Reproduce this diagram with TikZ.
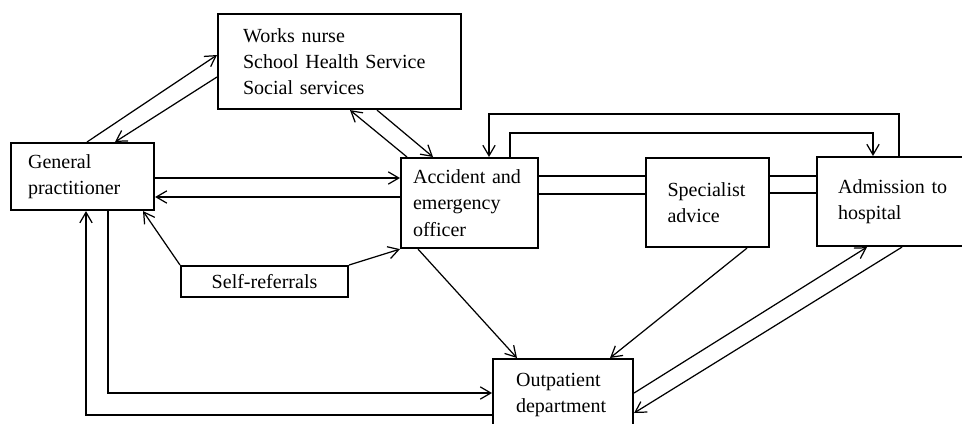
\documentclass[tikz,border=0pt]{standalone}
\usepackage{fontspec}
\setmainfont{Liberation Serif}
\usetikzlibrary{arrows.meta}
\begin{document}
\begin{tikzpicture}
[x=0.02cm,y=-0.02cm,
  lineDecorate/.style={line width=0.7pt},
  arrowDecorate/.style={lineDecorate,-{Straight Barb[length=6pt,width=7pt]}},
  nodeDecorate/.style={shape=rectangle,draw,line width=1.2pt,inner ysep=0pt,
    anchor=north west,font=\fontsize{11.4}{15}\selectfont}]
\useasboundingbox (0,0) rectangle (962,423);
%% boxes
\foreach \nodename/\x/\y/\w/\h/\pad/\tw/\al/\txt in {
  works/217/13/4.86/1.90/0.50/3.86/left/{Works nurse\\School Health Service\\Social services},
  gp/10/142/2.86/1.34/0.34/2.18/left/{General\\practitioner},
  ae/400/157/2.74/1.80/0.24/2.26/left/{Accident and\\emergency\\officer},
  spec/645/157/2.46/1.78/0.43/1.60/left/{Specialist\\advice},
  adm/816/156/3.20/1.78/0.42/2.36/left/{Admission to\\hospital},
  self/180/265/3.34/0.62/0.30/2.74/center/{Self-referrals},
  out/492/358/2.80/1.44/0.46/1.88/left/{Outpatient\\department}}
{
  \node (\nodename) at (\x,\y) [nodeDecorate,align=\al,inner xsep=\pad cm,text width=\tw cm,
    minimum width=\w cm,minimum height=\h cm] {\txt};
}
%% connectors
\draw[arrowDecorate] (gp.north -| 87,0) -- (works.west |- 0,55);
\draw[arrowDecorate] (works.west |- 0,77) -- (gp.north -| 115,0);
\draw[arrowDecorate] (works.south -| 377,0) -- (ae.north -| 433,0);
\draw[arrowDecorate] (ae.north -| 407,0) -- (works.south -| 350,0);
\draw[arrowDecorate] (gp.east |- 0,178) -- (ae.west |- 0,178);
\draw[arrowDecorate] (ae.west |- 0,197) -- (gp.east |- 0,197);
\draw[arrowDecorate] (self.north west) -- (gp.south -| 143,0);
\draw[arrowDecorate] (self.north east) -- (ae.south west);
\draw[arrowDecorate] (gp.south -| 108,0) |- (out.west |- 0,393);
\draw[arrowDecorate] (out.west |- 0,415) -| (gp.south -| 86,0);
\draw[arrowDecorate] (ae.south -| 418,0) -- (out.north -| 517,0);
\draw[arrowDecorate] (spec.south -| 747,0) -- (out.north -| 610,0);
\draw[arrowDecorate] (out.east |- 0,393) -- (adm.south -| 867,0);
\draw[arrowDecorate] (adm.south -| 902,0) -- (out.east |- 0,413);
\draw[lineDecorate] (ae.east |- 0,176) -- (spec.west |- 0,176);
\draw[lineDecorate] (ae.east |- 0,194) -- (spec.west |- 0,194);
\draw[lineDecorate] (spec.east |- 0,176) -- (adm.west |- 0,176);
\draw[lineDecorate] (spec.east |- 0,193) -- (adm.west |- 0,193);
%% loops over the top
\draw[arrowDecorate] (adm.north -| 899,0) |- (489,114) -- (ae.north -| 489,0);
\draw[arrowDecorate] (ae.north -| 510,0) |- (873,133) -- (adm.north -| 873,0);
\end{tikzpicture}
\end{document}
